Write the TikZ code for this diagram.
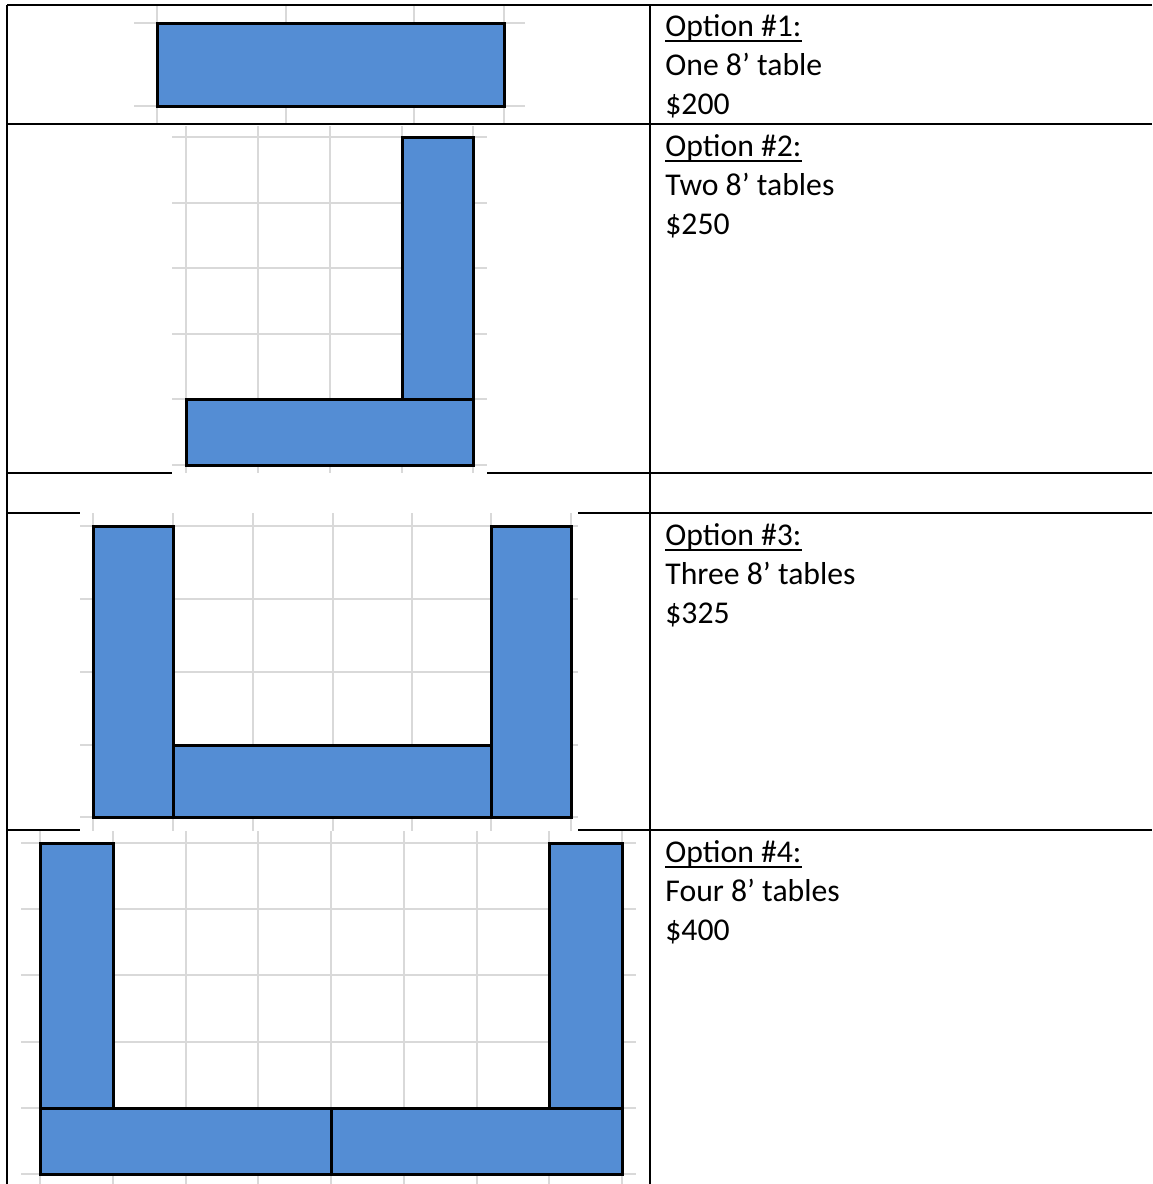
\documentclass[tikz,border=0pt]{standalone}
\usepackage{fontspec}
\setmainfont{Carlito}
\usetikzlibrary{calc}

\tikzset{
	tablerule/.style={line width=1.1pt, color=black},
	thinrule/.style={line width=0.55pt, color=black},
	gridrule/.style={line width=0.9pt, color={rgb,255:red,217;green,217;blue,217}},
	plank/.style={draw=black, line width=1.5pt, fill={rgb,255:red,84;green,141;blue,212}},
	optext/.style={anchor=base west, inner sep=0pt, font=\fontsize{15.85}{19.5}\selectfont},
	ulrule/.style={line width=1pt, color=black}
}

\begin{document}
\begin{tikzpicture}[x=0.5pt,y=0.5pt,yscale=-1,xscale=1]
	\useasboundingbox (0,0) rectangle (1152,1184);
	
	% Grid: option 1
	\foreach \gx in {157,286,414,504} \draw[gridrule] (\gx,5) -- (\gx,124);
	\foreach \gy in {23,106} \draw[gridrule] (134,\gy) -- (525,\gy);
	
	% Grid: option 2
	\foreach \gx in {186,258,330,402,473} \draw[gridrule] (\gx,126) -- (\gx,473);
	\foreach \gy in {137,203,268,334,399,465} \draw[gridrule] (172,\gy) -- (487,\gy);
	
	% Grid: option 3
	\foreach \gx in {93,173,253,333,412,491,571} \draw[gridrule] (\gx,513) -- (\gx,831);
	\foreach \gy in {526,599,672,745,817} \draw[gridrule] (80,\gy) -- (578,\gy);
	
	% Grid: option 4
	\foreach \gx in {40,113,186,258,331,404,477,549,622} \draw[gridrule] (\gx,831) -- (\gx,1184);
	\foreach \gy in {843,909,975,1042,1108,1174} \draw[gridrule] (21,\gy) -- (636,\gy);
	
	% Table: vertical rules
	\draw[tablerule] (7,5) -- (7,1184);
	\draw[tablerule] (650,5) -- (650,1184);
	
	% Table: horizontal rules
	\draw[tablerule] (7,5) -- (134,5);
	\draw[thinrule] (134,5) -- (525,5);
	\draw[tablerule] (525,5) -- (1152,5);
	\draw[tablerule] (7,124) -- (134,124);
	\draw[thinrule] (134,124) -- (525,124);
	\draw[tablerule] (525,124) -- (1152,124);
	\draw[tablerule] (7,473) -- (172,473);
	\draw[tablerule] (487,473) -- (1152,473);
	\draw[tablerule] (7,513) -- (80,513);
	\draw[tablerule] (578,513) -- (1152,513);
	\draw[tablerule] (7,830) -- (21,830);
	\draw[thinrule] (21,830) -- (80,830);
	\draw[thinrule] (578,830) -- (636,830);
	\draw[tablerule] (636,830) -- (1152,830);
	
	% Shape: option 1, one table
	\draw[plank] (157,23) rectangle (504,106);
	
	% Shape: option 2, two tables
	\draw[plank] (402,137) rectangle (473,399);
	\draw[plank] (186,399) rectangle (473,465);
	
	% Shape: option 3, three tables
	\draw[plank] (93,526) rectangle (173,817);
	\draw[plank] (173,745) rectangle (491,817);
	\draw[plank] (491,526) rectangle (571,817);
	
	% Shape: option 4, four tables
	\draw[plank] (40,843) rectangle (113,1108);
	\draw[plank] (549,843) rectangle (622,1108);
	\draw[plank] (40,1108) rectangle (331,1174);
	\draw[plank] (331,1108) rectangle (622,1174);
	
	% Text: options
	\node[optext] (head1) at (665,36) {Option \#1:};
	\node[optext] (desc1) at (665,75) {One 8’ table};
	\node[optext] (cost1) at (665,114) {\$200};
	
	\node[optext] (head2) at (665,156) {Option \#2:};
	\node[optext] (desc2) at (665,195) {Two 8’ tables};
	\node[optext] (cost2) at (665,234) {\$250};
	
	\node[optext] (head3) at (665,545) {Option \#3:};
	\node[optext] (desc3) at (665,584) {Three 8’ tables};
	\node[optext] (cost3) at (665,623) {\$325};
	
	\node[optext] (head4) at (665,862) {Option \#4:};
	\node[optext] (desc4) at (665,901) {Four 8’ tables};
	\node[optext] (cost4) at (665,940) {\$400};
	
	% Underlines
	\draw[ulrule] ($(head1.base west)+(0,5)$) -- ($(head1.base east)+(0,5)$);
	\draw[ulrule] ($(head2.base west)+(0,5)$) -- ($(head2.base east)+(0,5)$);
	\draw[ulrule] ($(head3.base west)+(0,5)$) -- ($(head3.base east)+(0,5)$);
	\draw[ulrule] ($(head4.base west)+(0,5)$) -- ($(head4.base east)+(0,5)$);
	
\end{tikzpicture}
\end{document}
